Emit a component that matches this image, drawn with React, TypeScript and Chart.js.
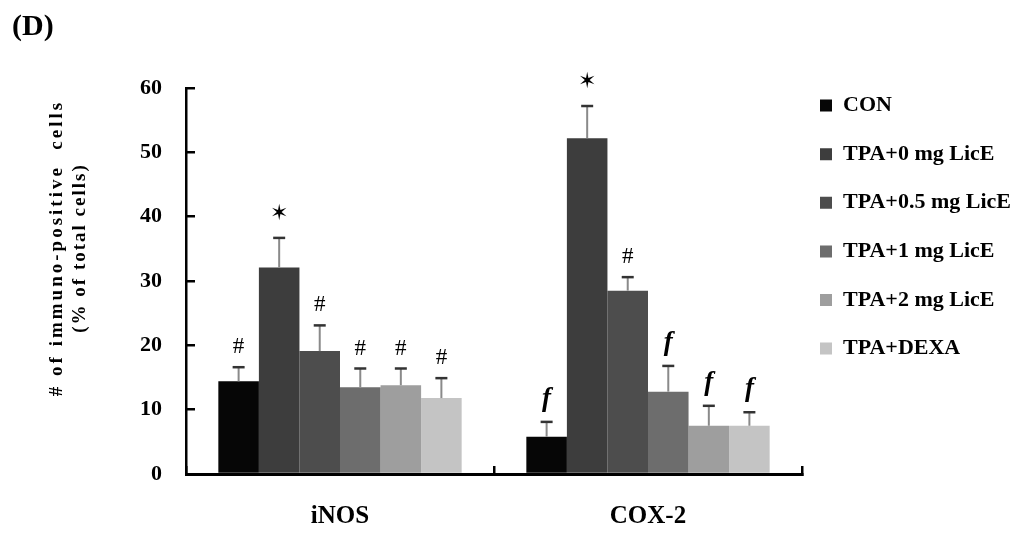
import React, { useEffect, useRef } from 'react';
import { Chart, registerables } from 'chart.js';

Chart.register(...registerables);

// ---------- data ----------
const categories = ['iNOS', 'COX-2'];
const seriesNames = ['CON', 'TPA+0 mg LicE', 'TPA+0.5 mg LicE', 'TPA+1 mg LicE', 'TPA+2 mg LicE', 'TPA+DEXA'];

const conValues = [14.4, 5.8];
const tpa0Values = [32.1, 52.2];
const tpa05Values = [19.1, 28.5];
const tpa1Values = [13.5, 12.8];
const tpa2Values = [13.8, 7.5];
const dexaValues = [11.8, 7.5];

const conErrors = [2.2, 2.3];
const tpa0Errors = [4.6, 5.0];
const tpa05Errors = [4.0, 2.1];
const tpa1Errors = [2.9, 4.0];
const tpa2Errors = [2.6, 3.1];
const dexaErrors = [3.1, 2.1];

const conMarks = ['#', 'f'];
const tpa0Marks = ['*', '*'];
const tpa05Marks = ['#', '#'];
const tpa1Marks = ['#', 'f'];
const tpa2Marks = ['#', 'f'];
const dexaMarks = ['#', 'f'];

const yTickValues = [0, 10, 20, 30, 40, 50, 60];
const yTitleLines = ['# of immuno-positive  cells', '(% of total cells)'];
const panelLabel = '(D)';

const seriesColors = ['#060606', '#3d3d3d', '#4d4d4d', '#6d6d6d', '#9e9e9e', '#c4c4c4'];

const valueSets = [conValues, tpa0Values, tpa05Values, tpa1Values, tpa2Values, dexaValues];
const errorSets = [conErrors, tpa0Errors, tpa05Errors, tpa1Errors, tpa2Errors, dexaErrors];
const markSets = [conMarks, tpa0Marks, tpa05Marks, tpa1Marks, tpa2Marks, dexaMarks];

const SERIF = '"Liberation Serif", "Times New Roman", serif';

// ---------- plugins ----------
const errorBarPlugin = {
  id: 'errorBars',
  afterDatasetsDraw(chart: any) {
    const ctx = chart.ctx;
    const yScale = chart.scales.y;
    chart.data.datasets.forEach((ds: any, i: number) => {
      const meta = chart.getDatasetMeta(i);
      meta.data.forEach((el: any, j: number) => {
        const v = ds.data[j];
        const e = ds.errors[j];
        const yTop = yScale.getPixelForValue(v + e);
        const x = el.x;
        ctx.save();
        ctx.strokeStyle = '#8a8a8a';
        ctx.lineWidth = 2;
        ctx.beginPath();
        ctx.moveTo(x, el.y);
        ctx.lineTo(x, yTop);
        ctx.stroke();
        ctx.strokeStyle = '#333333';
        ctx.lineWidth = 2.5;
        ctx.beginPath();
        ctx.moveTo(x - 6, yTop);
        ctx.lineTo(x + 6, yTop);
        ctx.stroke();

        const mark = ds.marks[j];
        ctx.fillStyle = '#000';
        ctx.textAlign = 'center';
        ctx.textBaseline = 'middle';
        if (mark === '*') {
          ctx.font = 'bold 22px "DejaVu Sans"';
          ctx.fillText('\u2736', x, yTop - 24);
        } else if (mark === 'f') {
          ctx.font = `italic bold 27px ${SERIF}`;
          ctx.fillText('f', x, yTop - 23);
        } else {
          ctx.font = `23px ${SERIF}`;
          ctx.fillText(mark, x, yTop - 20);
        }
        ctx.restore();
      });
    });
  },
};

const yTitlePlugin = {
  id: 'yTitle',
  afterDraw(chart: any) {
    const ctx = chart.ctx;
    ctx.save();
    ctx.fillStyle = '#000';
    ctx.font = `bold 19px ${SERIF}`;
    ctx.textAlign = 'center';
    ctx.textBaseline = 'middle';
    const xs = [57, 80];
    const spacing = ['3px', '2px'];
    yTitleLines.forEach((line, k) => {
      ctx.save();
      (ctx as any).letterSpacing = spacing[k];
      ctx.translate(xs[k], 248);
      ctx.rotate(-Math.PI / 2);
      ctx.fillText(line, 0, 0);
      ctx.restore();
    });
    ctx.restore();
  },
};

const legendShiftPlugin = {
  id: 'legendShift',
  afterLayout(chart: any) {
    const lg = chart.legend;
    if (!lg) return;
    const w = lg.width;
    const h = lg.height;
    lg.left = 820 - 26.6;
    lg.right = lg.left + w;
    lg.top = 68;
    lg.bottom = lg.top + h;
  },
};

export default function App() {
  const canvasRef = useRef<HTMLCanvasElement | null>(null);

  useEffect(() => {
    document.body.style.margin = '0';
    const canvas = canvasRef.current;
    if (!canvas) return;

    const datasets = seriesNames.map((name, i) => ({
      label: name,
      data: valueSets[i],
      errors: errorSets[i],
      marks: markSets[i],
      backgroundColor: seriesColors[i],
      borderColor: seriesColors[i],
      borderWidth: 0,
      categoryPercentage: 0.79,
      barPercentage: 1.0,
    }));

    const chart = new Chart(canvas, {
      type: 'bar',
      data: { labels: categories, datasets: datasets as any },
      options: {
        responsive: false,
        animation: false,
        devicePixelRatio: 1,
        layout: { padding: { left: 12, right: 0, top: 0, bottom: 0 } },
        plugins: {
          title: {
            display: true,
            text: panelLabel,
            align: 'start',
            color: '#000',
            font: { family: SERIF, size: 30, weight: 'bold', lineHeight: 1.2 },
            padding: { top: 9, bottom: 43 },
          },
          legend: {
            position: 'right',
            align: 'start',
            maxWidth: 222,
            labels: {
              boxWidth: 12,
              boxHeight: 12,
              padding: 26.6,
              color: '#000',
              font: { family: SERIF, size: 22, weight: 'bold' },
            },
          },
          tooltip: { enabled: false },
        },
        scales: {
          x: {
            grid: {
              display: true,
              drawOnChartArea: false,
              offset: true,
              tickLength: -8,
              color: '#000',
              lineWidth: 2.5,
            },
            border: { color: '#000', width: 3 },
            ticks: {
              color: '#000',
              padding: 36,
              font: { family: SERIF, size: 25, weight: 'bold' },
            },
            afterFit: (s: any) => {
              s.height = 60;
            },
          },
          y: {
            min: 0,
            max: 60,
            afterBuildTicks: (s: any) => {
              s.ticks = yTickValues.map((v) => ({ value: v }));
            },
            ticks: {
              color: '#000',
              padding: 33,
              font: { family: SERIF, size: 22, weight: 'bold' },
            },
            grid: {
              drawOnChartArea: false,
              tickLength: -9,
              color: '#000',
              lineWidth: 2.5,
            },
            border: { color: '#000', width: 2.5 },
            afterFit: (s: any) => {
              s.width = 174;
            },
          },
        },
      } as any,
      plugins: [errorBarPlugin, yTitlePlugin, legendShiftPlugin],
    });

    return () => {
      chart.destroy();
    };
  }, []);

  return (
    <canvas
      ref={canvasRef}
      width={1024}
      height={534}
      style={{ display: 'block', width: '1024px', height: '534px' }}
    />
  );
}
